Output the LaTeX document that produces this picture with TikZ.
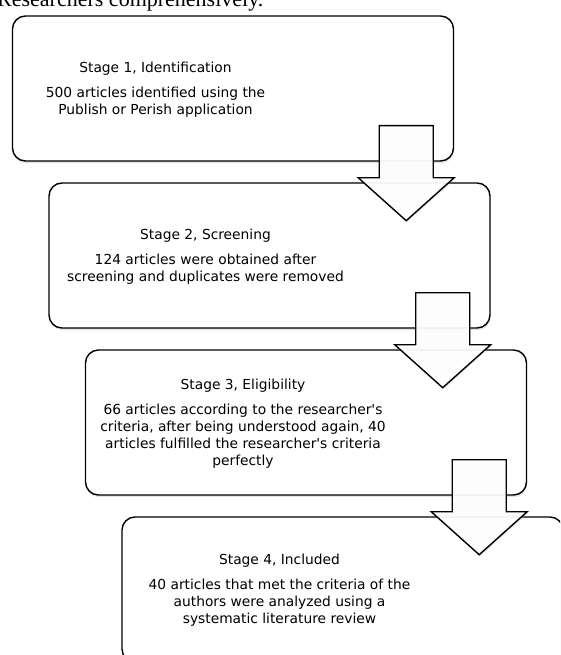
\documentclass[tikz,border=0pt]{standalone}
\usepackage{fontspec}
\setmainfont{DejaVu Sans}
\newfontfamily\pagefont{Liberation Serif}
\usetikzlibrary{calc, shadows}
\tikzset{
  stagebox/.style={draw=black, line width=1.4pt, fill=white, rounded corners=13pt,
    minimum width=441pt, minimum height=145pt, inner sep=0pt,
    drop shadow={shadow xshift=0.6pt, shadow yshift=-2.2pt, opacity=0.22}},
  stagetext/.style={align=center, font=\fontsize{13.8}{17}\selectfont, inner sep=0pt},
  stagearrow/.style={draw=black, line width=1.4pt, fill=white, fill opacity=0.93,
    line join=miter, drop shadow={shadow xshift=0.8pt, shadow yshift=-1.6pt, opacity=0.2}}
}

\begin{document}
\begin{tikzpicture}[x=1pt, y=-1pt]
        \useasboundingbox (0,0) rectangle (560,655);
        \clip (0,0) rectangle (560,655);
        \node[font=\pagefont\fontsize{22}{26}\selectfont, anchor=base west, inner sep=0pt]
              (pagetext) at (-3,7) {Researchers comprehensively.};
        % the four stages
        \node[stagebox] (s1) at (233,88.5) {};
        \node[stagebox] (s2) at (269.5,255.5) {};
        \node[stagebox] (s3) at (306,422.5) {};
        \node[stagebox] (s4) at (342.5,589.5) {};
        \node[stagetext] (t1) at ($(s1.center)+(-77.5,1)$)
              {Stage 1, Identification\\[8pt]500 articles identified using the\\Publish or Perish application};
        \node[stagetext] (t2) at ($(s2.center)+(-64,1)$)
              {Stage 2, Screening\\[8pt]124 articles were obtained after\\screening and duplicates were removed};
        \node[stagetext] (t3) at ($(s3.center)+(-63,1)$)
              {Stage 3, Eligibility\\[8pt]66 articles according to the researcher\textquotesingle s\\criteria, after being understood again, 40\\articles fulfilled the researcher\textquotesingle s criteria\\perfectly};
        \node[stagetext] (t4) at ($(s4.center)+(-63,1)$)
              {Stage 4, Included\\[8pt]40 articles that met the criteria of the\\authors were analyzed using a\\systematic literature review};
        % block arrows from stage to stage
        \foreach \i in {1,2,3} {
          \coordinate (a\i) at ($(s\i.south east)+(-48,-36)$);
          \draw[stagearrow] ($(a\i)+(-27,0)$) -- ++(54,0) -- ++(0,52) -- ++(21,0)
                -- ++(-48,43) -- ++(-48,-43) -- ++(21,0) -- cycle;
        }
      \end{tikzpicture}
\end{document}
